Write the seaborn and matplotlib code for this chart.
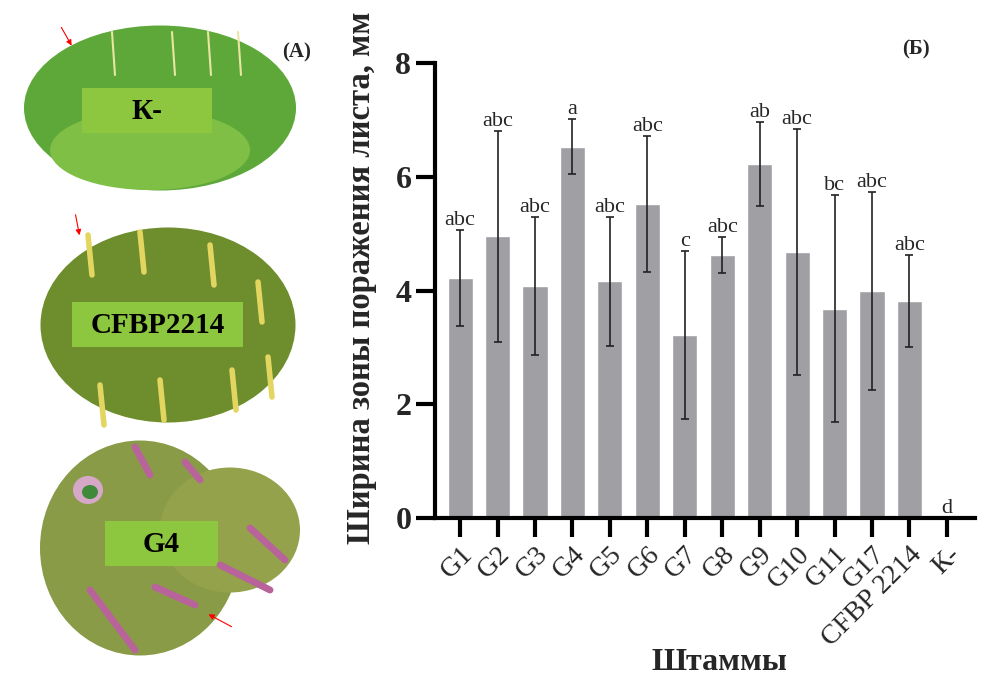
import matplotlib
matplotlib.use("Agg")
import matplotlib.pyplot as plt
import numpy as np
import pandas as pd
import seaborn as sns
from matplotlib.patches import Ellipse, Rectangle, FancyArrowPatch

# Data.
strains = ["G1", "G2", "G3", "G4", "G5", "G6", "G7", "G8", "G9", "G10",
           "G11", "G17", "CFBP 2214", "К-"]
lesion_width = [4.22, 4.95, 4.08, 6.53, 4.16, 5.52, 3.22, 4.62, 6.23, 4.68,
                3.68, 3.99, 3.82, 0.0]
lesion_err = [0.85, 1.86, 1.22, 0.49, 1.14, 1.19, 1.48, 0.32, 0.74, 2.16,
              2.0, 1.74, 0.81, 0.0]
groups = ["abc", "abc", "abc", "a", "abc", "abc", "c", "abc", "ab", "abc",
          "bc", "abc", "abc", "d"]

# Panel (A) leaf labels.
leaf_labels = ["К-", "CFBP2214", "G4"]

sns.set_theme(style="ticks")
plt.rcParams["font.family"] = ["Liberation Serif", "DejaVu Serif"]

fig = plt.figure(figsize=(9.96, 6.92), dpi=100)

# ---- Panel (A): schematic leaves drawn in pixel coordinates ----
axl = fig.add_axes([0, 0, 344 / 996, 1])
axl.set_xlim(0, 344)
axl.set_ylim(692, 0)
axl.axis("off")

# Leaf 1 (control).
axl.add_patch(Ellipse((160, 108), 272, 165, facecolor="#5ea83a", edgecolor="none"))
axl.add_patch(Ellipse((150, 150), 200, 80, facecolor="#7fbf45", edgecolor="none"))
for x0 in [112, 172, 208, 238]:
    axl.plot([x0, x0 + 3], [32, 75], color="#e8e6a0", lw=1.5)
# Leaf 2 (CFBP2214).
axl.add_patch(Ellipse((168, 325), 255, 195, facecolor="#6e8d2d", edgecolor="none"))
for x0, y0 in [(88, 235), (140, 232), (210, 245), (258, 282), (100, 385),
               (160, 380), (232, 370), (268, 357)]:
    axl.plot([x0, x0 + 4], [y0, y0 + 40], color="#e3d660", lw=4, solid_capstyle="round")
# Leaf 3 (G4).
axl.add_patch(Ellipse((140, 548), 200, 215, facecolor="#8a9b48", edgecolor="none"))
axl.add_patch(Ellipse((230, 530), 140, 125, facecolor="#95a24c", edgecolor="none"))
for (xa, ya), (xb, yb) in [((135, 447), (150, 475)), ((185, 462), (200, 480)),
                           ((250, 528), (285, 560)), ((220, 565), (270, 590)),
                           ((155, 587), (195, 605)), ((90, 590), (135, 650))]:
    axl.plot([xa, xb], [ya, yb], color="#b8649a", lw=5, solid_capstyle="round")
axl.add_patch(Ellipse((88, 490), 30, 28, facecolor="#d6a8c8", edgecolor="none"))
axl.add_patch(Ellipse((90, 492), 16, 14, facecolor="#3f8a3a", edgecolor="none"))

# Red arrows.
for (xa, ya), (xb, yb) in [((60, 25), (73, 48)), ((75, 212), (80, 238)),
                           ((234, 628), (206, 613))]:
    axl.add_patch(FancyArrowPatch((xa, ya), (xb, yb), arrowstyle="-|>",
                                  mutation_scale=8, color="red", lw=0.8))

# Label boxes.
boxes = [(82, 88, 130, 45), (72, 302, 171, 45), (105, 521, 113, 45)]
for (bx, by, bw, bh), lab in zip(boxes, leaf_labels):
    axl.add_patch(Rectangle((bx, by), bw, bh, facecolor="#8dc63f", edgecolor="none"))
    axl.text(bx + bw / 2, by + bh / 2 + 1, lab, ha="center", va="center",
             fontsize=21, fontweight="bold", color="black")

axl.text(297, 52, "(A)", ha="center", va="center", fontsize=15, fontweight="bold")

# ---- Panel (Б): bar chart ----
ax = fig.add_axes([435 / 996, (692 - 518) / 692, (975 - 435) / 996, (518 - 63) / 692])
df = pd.DataFrame({"strain": strains, "width": lesion_width, "err": lesion_err})
sns.barplot(data=df, x="strain", y="width", color="#a09fa4", saturation=1,
            width=0.67, errorbar=None, ax=ax)
xpos = np.arange(len(strains))
ax.errorbar(xpos, df["width"], yerr=df["err"], fmt="none", ecolor="#222222",
            elinewidth=1.2, capsize=3, capthick=1.2)

for xi, top, lab in zip(xpos, df["width"] + df["err"], groups):
    ax.annotate(lab, (xi, top), xytext=(0, 0), textcoords="offset points",
                ha="center", va="bottom", fontsize=16)

ax.set_xlim(-0.67, 13.75)
ax.set_ylim(0, 8)
ax.set_yticks([0, 2, 4, 6, 8])
ax.set_yticklabels(["0", "2", "4", "6", "8"], fontsize=23, fontweight="bold")
ax.set_xticks(xpos)
ax.set_xticklabels(strains, rotation=45, ha="right", rotation_mode="anchor",
                   fontsize=20)
for side in ["top", "right"]:
    ax.spines[side].set_visible(False)
for side in ["left", "bottom"]:
    ax.spines[side].set_linewidth(3)
    ax.spines[side].set_color("black")
ax.tick_params(axis="both", length=14, width=3, color="black", pad=3)

ax.set_ylabel("Ширина зоны поражения листа, мм", fontsize=23.5,
              fontweight="bold")
ax.yaxis.set_label_coords(-0.108, 0.527)
ax.set_xlabel("Штаммы", fontsize=23, fontweight="bold")
ax.xaxis.set_label_coords(0.526, -0.285)
ax.text(0.89, 1.03, "(Б)", transform=ax.transAxes, ha="center", va="center",
        fontsize=15, fontweight="bold")

fig.savefig("out.png", dpi=100)
